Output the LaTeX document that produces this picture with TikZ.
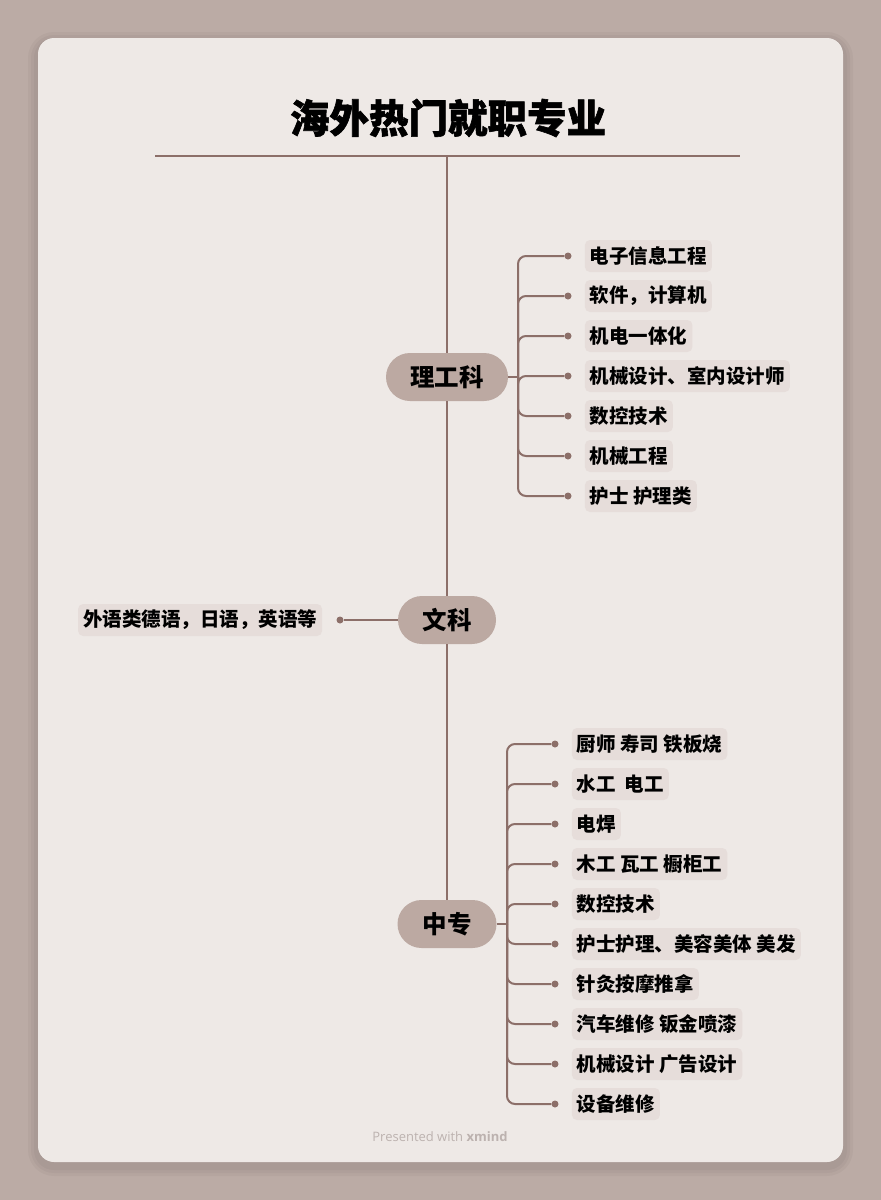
\documentclass[tikz,border=0pt]{standalone}
\usepackage{fontspec}
\newfontfamily\cjk{Noto Sans CJK SC}
\newfontfamily\cjktitle[BoldFeatures={FakeBold=1.5}]{Noto Sans CJK SC}
\newfontfamily\footfont{Open Sans}
\usetikzlibrary{positioning}

\definecolor{pagebg}{HTML}{BBABA5}
\definecolor{cardbg}{HTML}{EEE9E6}
\definecolor{branch}{HTML}{8C6F69}
\definecolor{pillfill}{HTML}{BCA9A2}
\definecolor{itemfill}{HTML}{E6DDDA}
\definecolor{footgray}{HTML}{BCB2AF}

\begin{document}
\begin{tikzpicture}[
x=1pt, y=-1pt,
topic/.style={fill=pillfill, rounded corners=24pt, minimum height=48pt, inner xsep=0pt, text=black, font=\cjk\bfseries\fontsize{24.5}{28}\selectfont},
item/.style={fill=itemfill, rounded corners=5pt, minimum height=32pt, inner xsep=5pt, inner ysep=0pt, text=black, font=\cjk\bfseries\fontsize{19.5}{22}\selectfont},
dot/.style={circle, fill=branch, inner sep=0pt, minimum size=7pt},
link/.style={draw=branch, line width=2pt}
]
% page and card
\useasboundingbox (0,0) rectangle (881,1200);
\fill[pagebg] (0,0) rectangle (881,1200);
\foreach \s in {10,7,4}
  \fill[black, opacity=0.03, rounded corners=16pt+\s pt] (38-\s,38-\s+4) rectangle (843+\s,1162+\s+4);
\fill[cardbg, rounded corners=16pt] (38,38) rectangle (843,1162);

% title
\node[font=\cjktitle\bfseries\fontsize{39.5}{44}\selectfont] (title) at (448,118) {海外热门就职专业};
\coordinate (rule-l) at (155,156);
\coordinate (rule-r) at (740,156);
\coordinate (rule-c) at (447,156);
\draw[branch, line width=1.5pt] (rule-l) -- (rule-r);

% main topics
\node[topic, minimum width=122pt] (lgk) at (447,377) {理工科};
\node[topic, minimum width=98pt] (wk) at (447,620) {文科};
\node[topic, minimum width=99pt] (zz) at (447,924) {中专};

\draw[link] (rule-c) -- (lgk.north);
\draw[link] (lgk.south) -- (wk.north);
\draw[link] (wk.south) -- (zz.north);

% 理工科
\coordinate (lgk-hub) at (518,377);
\draw[link] (lgk.east) -- (lgk-hub);
\foreach \txt [count=\i] in {电子信息工程, 软件，计算机, 机电一体化, 机械设计、室内设计师, 数控技术, 机械工程, 护士 护理类} {
  \node[dot] (lgd\i) at (568,216+40*\i) {};
  \node[item, right=13pt of lgd\i] (lg\i) {\txt};
  \draw[link, rounded corners=8pt] (lgk-hub) |- (lgd\i);
}

% 文科
\node[dot] (wkd) at (340,620) {};
\node[item, left=14pt of wkd] (wk1) {外语类德语，日语，英语等};
\draw[link] (wk.west) -- (wkd);

% 中专
\coordinate (zz-hub) at (507,924);
\draw[link] (zz.east) -- (zz-hub);
\foreach \txt [count=\i] in {厨师 寿司 铁板烧, 水工~~电工, 电焊, 木工 瓦工 橱柜工, 数控技术, 护士护理、美容美体 美发, 针灸按摩推拿, 汽车维修 钣金喷漆, 机械设计 广告设计, 设备维修} {
  \node[dot] (zzd\i) at (555,704+40*\i) {};
  \node[item, right=13pt of zzd\i] (zz\i) {\txt};
  \draw[link, rounded corners=8pt] (zz-hub) |- (zzd\i);
}

% footer
\node[text=footgray, font=\footfont\fontsize{13}{15}\selectfont] (foot) at (440,1137) {Presented with \textbf{xmind}};
\end{tikzpicture}
\end{document}
